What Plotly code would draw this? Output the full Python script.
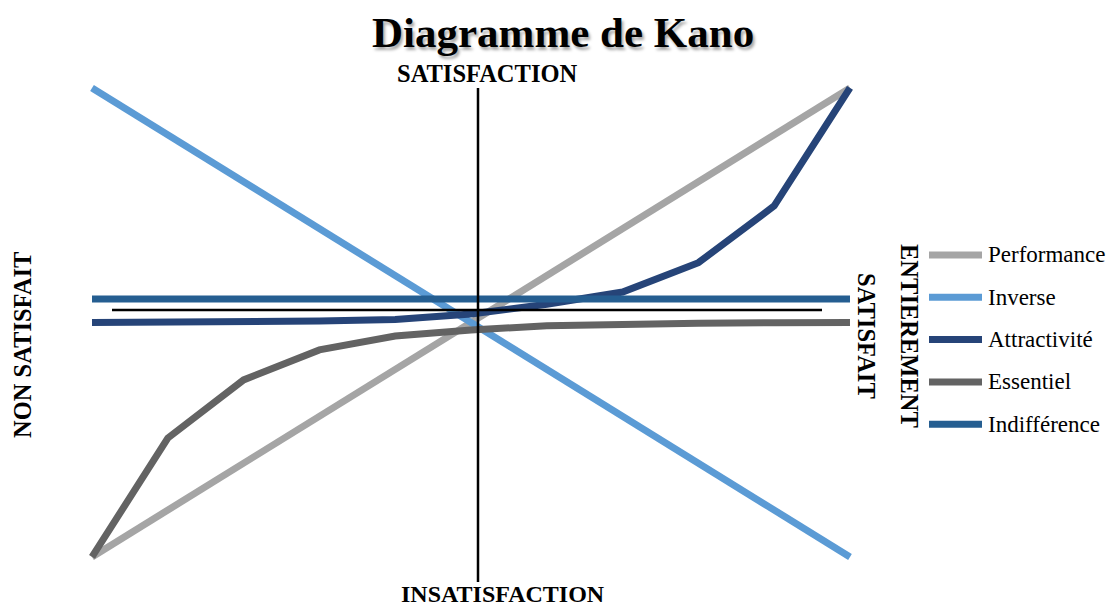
import plotly.graph_objects as go

# niveau de réalisation (axe horizontal) et satisfaction (axe vertical)
niveaux = [0, 1, 2, 3, 4, 5, 6, 7, 8, 9, 10]
performance = [-10, -8, -6, -4, -2, 0, 2, 4, 6, 8, 10]
inverse = [10, 8, 6, 4, 2, 0, -2, -4, -6, -8, -10]
attractivite = [0, 0.01, 0.02, 0.06, 0.13, 0.36, 0.78, 1.3, 2.55, 4.97, 10]
essentiel = [-10, -4.93, -2.45, -1.17, -0.58, -0.32, -0.14, -0.06, -0.03, -0.01, 0]
indifference = [1, 1, 1, 1, 1, 1, 1, 1, 1, 1, 1]

noms = ["Performance", "Inverse", "Attractivité", "Essentiel", "Indifférence"]
series = [performance, inverse, attractivite, essentiel, indifference]
couleurs = ["#A5A5A5", "#5B9BD5", "#264478", "#636363", "#255E91"]

FONT = "Liberation Serif"
W, H = 1110, 610
ML, MR, MT, MB = 77, 245, 76, 42


# pixel -> paper coordinates (for decorations and labels)
def px(x):
    return (x - ML) / (W - ML - MR)


def py(y):
    return (H - MB - y) / (H - MT - MB)


fig = go.Figure()
for nom, ys, c in zip(noms, series, couleurs):
    fig.add_trace(go.Scatter(x=niveaux, y=ys, name=nom, mode="lines",
                             line=dict(color=c, width=7),
                             hoverinfo="name+y"))

# axes en croix
shapes = [
    dict(type="line", xref="paper", yref="paper",
         x0=px(478), x1=px(478), y0=py(88), y1=py(582),
         line=dict(color="black", width=2.5)),
    dict(type="line", xref="paper", yref="paper",
         x0=px(112), x1=px(822), y0=py(310), y1=py(310),
         line=dict(color="black", width=2.5)),
]

annotations = [
    dict(text="<b>Diagramme de Kano</b>", x=px(563), y=py(32),
         font=dict(family=FONT, size=43, color="black",
                   shadow="2px 3px 3px rgba(0,0,0,0.35)")),
    dict(text="<b>SATISFACTION</b>", x=px(487), y=py(73),
         font=dict(family=FONT, size=24.5, color="black")),
    dict(text="<b>INSATISFACTION</b>", x=px(503), y=py(594),
         font=dict(family=FONT, size=24, color="black")),
    dict(text="<b>NON SATISFAIT</b>", x=px(22), y=py(345), textangle=-90,
         font=dict(family=FONT, size=24.5, color="black")),
    dict(text="<b>SATISFAIT</b>", x=px(867), y=py(336), textangle=90,
         font=dict(family=FONT, size=24.5, color="black")),
    dict(text="<b>ENTIEREMENT</b>", x=px(910), y=py(336), textangle=90,
         font=dict(family=FONT, size=24.5, color="black")),
]
for a in annotations:
    a.update(xref="paper", yref="paper", showarrow=False,
             xanchor="center", yanchor="middle")

# légende
for i, (nom, c) in enumerate(zip(noms, couleurs)):
    yy = 255 + 42.3 * i
    shapes.append(dict(type="line", xref="paper", yref="paper",
                       x0=px(929), x1=px(982), y0=py(yy), y1=py(yy),
                       line=dict(color=c, width=7)))
    annotations.append(dict(text=nom, xref="paper", yref="paper",
                            x=px(986), y=py(yy), xanchor="left", yanchor="middle",
                            showarrow=False,
                            font=dict(family=FONT, size=23, color="black")))

axis = dict(showline=False, zeroline=False, showgrid=False,
            showticklabels=False, fixedrange=True)

fig.update_layout(
    width=W, height=H,
    margin=dict(l=ML, r=MR, t=MT, b=MB),
    showlegend=False,
    plot_bgcolor="white", paper_bgcolor="white",
    xaxis=dict(axis, range=[-0.198, 10.198]),
    yaxis=dict(axis, range=[-10.47, 10.51]),
    shapes=shapes,
    annotations=annotations,
    hovermode="closest",
)
# the page's default body margin would shift the figure by 8px
fig.write_html("out.html", config={"displayModeBar": False},
               post_script="document.body.style.margin='0';")
